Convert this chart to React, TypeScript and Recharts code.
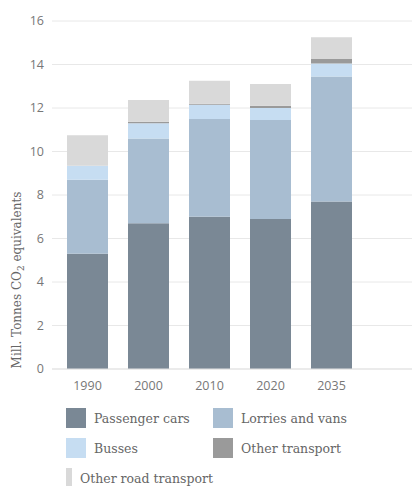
import { BarChart, Bar, XAxis, YAxis, CartesianGrid, Legend, Label } from "recharts";

const years = ["1990", "2000", "2010", "2020", "2035"];
const passengerCars = [5.3, 6.7, 7.0, 6.9, 7.7];
const lorriesAndVans = [3.4, 3.9, 4.5, 4.55, 5.75];
const busses = [0.65, 0.7, 0.65, 0.55, 0.6];
const otherTransport = [0, 0.07, 0.05, 0.1, 0.2];
const otherRoadTransport = [1.4, 1.0, 1.05, 1.0, 1.0];
const yTicks = [0, 2, 4, 6, 8, 10, 12, 14, 16];

const series = [
  { key: "pc", name: "Passenger cars", color: "#7a8895" },
  { key: "lv", name: "Lorries and vans", color: "#a8bdd1" },
  { key: "bu", name: "Busses", color: "#c6ddf2" },
  { key: "ot", name: "Other transport", color: "#9a9a9a" },
  { key: "ort", name: "Other road transport", color: "#d9d9d9" },
];

const data = years.map((y, i) => ({
  year: y,
  pc: passengerCars[i],
  lv: lorriesAndVans[i],
  bu: busses[i],
  ot: otherTransport[i],
  ort: otherRoadTransport[i],
}));

const legendFont = "'DejaVu Serif', serif";
const tickFont = "'Open Sans', sans-serif";

function LegendBox() {
  return (
    <div
      style={{
        display: "grid",
        gridTemplateColumns: "147px 160px",
        gridAutoRows: "30px",
        paddingLeft: 58,
        height: 90,
        boxSizing: "border-box",
      }}
    >
      {series.map((s) => (
        <div key={s.key} style={{ display: "flex", alignItems: "center" }}>
          <span
            style={{ width: 20, height: 20, background: s.color, display: "inline-block", marginRight: 8 }}
          />
          <span style={{ fontFamily: legendFont, fontSize: 12.5, color: "#666", whiteSpace: "nowrap" }}>
            {s.name}
          </span>
        </div>
      ))}
    </div>
  );
}

function YLabel(props: any) {
  const x = 9;
  const y = 272;
  return (
    <text
      x={x}
      y={y}
      transform={`rotate(-90, ${x}, ${y})`}
      textAnchor="middle"
      dominantBaseline="central"
      fill="#666"
      fontFamily={legendFont}
      fontSize={12}
    >
      Mill. Tonnes CO
      <tspan dy={4} fontSize={9}>2</tspan>
      <tspan dy={-4}> equivalents</tspan>
    </text>
  );
}

export default function App() {
  return (
    <BarChart
      width={412}
      height={490}
      data={data}
      margin={{ top: 13, right: 0, left: 0, bottom: 5 }}
      barSize={41}
    >
      <CartesianGrid vertical={false} stroke="#e8e8e8" />
      <XAxis
        dataKey="year"
        height={34}
        padding={{ left: 5, right: 58 }}
        tickLine={false}
        axisLine={{ stroke: "#e3e3e3" }}
        tick={{ fill: "#777", fontSize: 12.5, fontFamily: tickFont }}
        tickMargin={6}
      />
      <YAxis
        width={44}
        domain={[0, 16]}
        ticks={yTicks}
        axisLine={false}
        tickLine={false}
        tick={{ fill: "#777", fontSize: 12.5, fontFamily: tickFont }}
      >
        <Label content={<YLabel />} />
      </YAxis>
      <Legend verticalAlign="bottom" align="left" content={() => <LegendBox />} />
      {series.map((s) => (
        <Bar key={s.key} dataKey={s.key} name={s.name} stackId="a" fill={s.color} isAnimationActive={false} />
      ))}
    </BarChart>
  );
}
